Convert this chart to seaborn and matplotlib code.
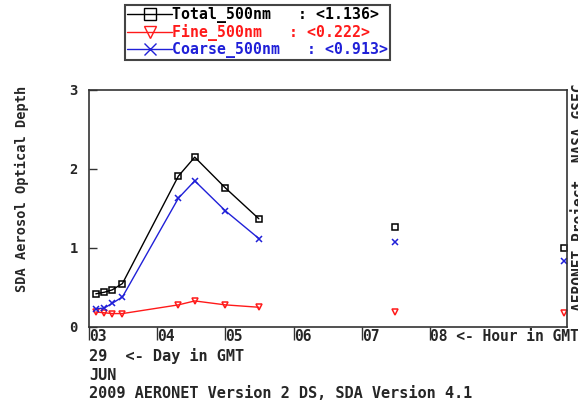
import pandas as pd
import matplotlib
matplotlib.use('Agg')
import matplotlib.pyplot as plt
from matplotlib.lines import Line2D
import seaborn as sns

# values (hour in GMT, 29 JUN 2009)
hours = [3.10, 3.225, 3.34, 3.49, 4.31, 4.55, 5.00, 5.49, 7.49, 9.97]
segment = [0, 0, 0, 0, 0, 0, 0, 0, 1, 2]  # lines are broken over long gaps
total = [0.42, 0.44, 0.47, 0.55, 1.91, 2.15, 1.76, 1.37, 1.27, 1.00]
fine = [0.19, 0.18, 0.17, 0.17, 0.28, 0.33, 0.28, 0.25, 0.19, 0.18]
coarse = [0.23, 0.24, 0.30, 0.38, 1.63, 1.85, 1.47, 1.12, 1.07, 0.84]

series_names = ['Total_500nm', 'Fine_500nm', 'Coarse_500nm']
series_means = ['1.136', '0.222', '0.913']
series_colors = ['black', '#ff1a1a', '#2020d8']
series_markers = ['s', 'v', 'x']

x_ticks = [3, 4, 5, 6, 7, 8]
x_tick_labels = ['03', '04', '05', '06', '07', '08 <- Hour in GMT']
y_ticks = [0, 1, 2, 3]

rows = []
for name, vals in zip(series_names, [total, fine, coarse]):
    for h, s, v in zip(hours, segment, vals):
        rows.append({'series': name, 'hour': h, 'segment': s, 'aod': v})
df = pd.DataFrame(rows)

sns.set_style('ticks')
plt.rcParams['font.family'] = ['DejaVu Sans Mono']
plt.rcParams['font.weight'] = 'bold'

fig = plt.figure(figsize=(5.78, 4.01), dpi=100)
ax = fig.add_axes([89 / 578, 1 - 327 / 401, (566.5 - 89) / 578, (327 - 90) / 401])

for name, c, m in zip(series_names, series_colors, series_markers):
    sns.lineplot(data=df[df['series'] == name], x='hour', y='aod', units='segment',
                 estimator=None, color=c, marker=m, markersize=5,
                 markerfacecolor='none', markeredgecolor=c, markeredgewidth=1.1,
                 linewidth=1.0, legend=False, ax=ax)

ax.set_xlim(3, 10)
ax.set_ylim(0, 3)
ax.set_xticks(x_ticks)
ax.set_xticklabels(x_tick_labels, ha='left', fontsize=10.5, fontweight='bold')
ax.set_yticks(y_ticks)
ax.set_yticklabels([str(t) for t in y_ticks], fontsize=10, fontweight='bold')
ax.tick_params(axis='x', bottom=True, direction='out', length=9.5, width=1.0, pad=-8,
               color='#333333')
ax.tick_params(axis='y', left=True, direction='in', length=6, width=1.0, pad=8,
               color='#333333')
ax.set_xlabel('')
ax.set_ylabel('')
for sp in ax.spines.values():
    sp.set_visible(True)
    sp.set_color('#333333')
    sp.set_linewidth(1.2)

# text around the plot
fig.text(22 / 578, 1 - 189 / 401, 'SDA Aerosol Optical Depth', rotation=90,
         ha='center', va='center', fontsize=9.8, fontweight='bold')
fig.text(570 / 578, 1 - 311 / 401, 'AERONET Project, NASA GSFC', rotation=90,
         ha='left', va='bottom', fontsize=10.5, fontweight='bold')
fig.text(89 / 578, 1 - 356 / 401, '29  <- Day in GMT', ha='left', va='center',
         fontsize=11, fontweight='bold')
fig.text(89 / 578, 1 - 376 / 401, 'JUN', ha='left', va='center',
         fontsize=11, fontweight='bold')
fig.text(89 / 578, 1 - 394 / 401, '2009 AERONET Version 2 DS, SDA Version 4.1',
         ha='left', va='center', fontsize=11, fontweight='bold')

# legend box at the top
handles = [Line2D([0], [0], color=c, marker=m, markersize=9, markerfacecolor='none',
                  markeredgecolor=c, linewidth=1.0)
           for c, m in zip(series_colors, series_markers)]
labels = [f'{n}   : <{v}>' for n, v in zip(series_names, series_means)]
leg = fig.legend(handles, labels, loc='upper left', bbox_to_anchor=(125 / 578, 1 - 5 / 401),
                 frameon=True, fancybox=False, edgecolor='#444444', framealpha=1,
                 handlelength=3.0, handletextpad=0.0, borderpad=0.15, labelspacing=0.05,
                 borderaxespad=0, prop={'family': 'DejaVu Sans Mono', 'weight': 'bold', 'size': 10.7})
leg.get_frame().set_linewidth(1.5)
for t, c in zip(leg.get_texts(), series_colors):
    t.set_color(c)

fig.savefig('out.png', dpi=100)
